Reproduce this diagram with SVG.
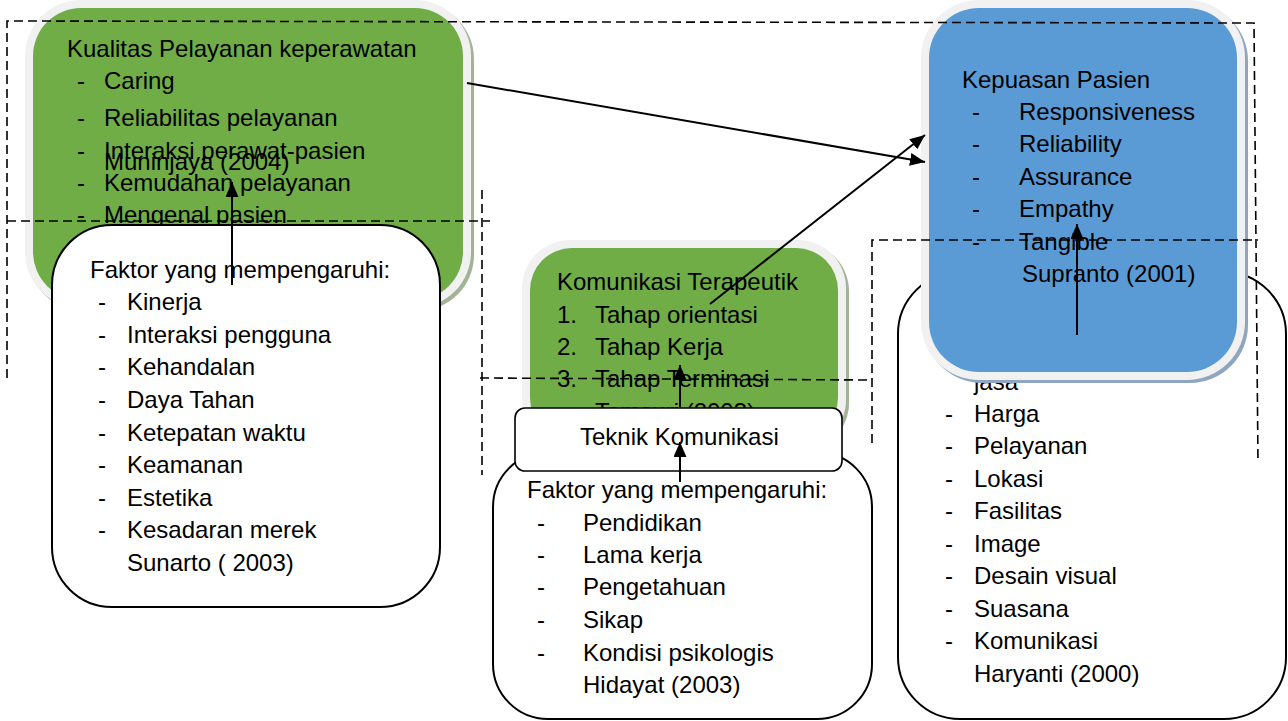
<svg xmlns="http://www.w3.org/2000/svg" width="1288" height="721" viewBox="0 0 1288 721">
<defs>
<style>
text{font-family:"Liberation Sans",Arial,sans-serif;font-size:24px;fill:#000}
.green{fill:#70ad47}
.blue{fill:#5b9bd5}
.rim{fill:#f1f1f1}
.gshadow{fill:#a3b396}
.bshadow{fill:#8ea6c0}
.wbox{fill:#fff;stroke:#000;stroke-width:2}
.conn{stroke:#000;stroke-width:2;fill:none}
.dash{stroke:#000;stroke-width:1.6;fill:none;stroke-dasharray:9 5}
</style>
<marker id="arr" markerUnits="userSpaceOnUse" markerWidth="16" markerHeight="13" refX="15" refY="6.5" orient="auto">
<path d="M0,0 L15,6.5 L0,13 z" fill="#000"/>
</marker>
</defs>
<rect width="1288" height="721" fill="#fff"/>

<g id="kualitas">
<rect class="gshadow" x="28" y="3" width="446" height="308" rx="56"/>
<rect class="rim" x="25" y="0" width="446" height="308" rx="56"/>
<rect class="green" x="33" y="8" width="430" height="292" rx="48"/>
<text x="67" y="57">Kualitas Pelayanan keperawatan</text>
<text x="77" y="89">-</text><text x="104" y="89">Caring</text>
<text x="77" y="126">-</text><text x="104" y="126">Reliabilitas pelayanan</text>
<text x="77" y="159">-</text><text x="104" y="159">Interaksi perawat-pasien</text>
<text x="104" y="170">Muninjaya (2004)</text>
<text x="77" y="191">-</text><text x="104" y="191">Kemudahan pelayanan</text>
<text x="77" y="223">-</text><text x="104" y="223">Mengenal pasien</text>
</g>

<g id="faktor-sunarto">
<rect class="wbox" x="52" y="225" width="388" height="382" rx="60"/>
<text x="90" y="278">Faktor yang mempengaruhi:</text>
<text x="98" y="310">-</text><text x="127" y="310">Kinerja</text>
<text x="98" y="343">-</text><text x="127" y="343">Interaksi pengguna</text>
<text x="98" y="375">-</text><text x="127" y="375">Kehandalan</text>
<text x="98" y="408">-</text><text x="127" y="408">Daya Tahan</text>
<text x="98" y="441">-</text><text x="127" y="441">Ketepatan waktu</text>
<text x="98" y="473">-</text><text x="127" y="473">Keamanan</text>
<text x="98" y="506">-</text><text x="127" y="506">Estetika</text>
<text x="98" y="538">-</text><text x="127" y="538">Kesadaran merek</text>
<text x="127" y="571">Sunarto ( 2003)</text>
</g>

<g id="komunikasi">
<rect class="gshadow" x="525" y="243" width="324" height="208" rx="48"/>
<rect class="rim" x="522" y="240" width="324" height="208" rx="48"/>
<rect class="green" x="530" y="248" width="308" height="192" rx="42"/>
<text x="557" y="290">Komunikasi Terapeutik</text>
<text x="557" y="323">1.</text><text x="595" y="323">Tahap orientasi</text>
<text x="557" y="355">2.</text><text x="595" y="355">Tahap Kerja</text>
<text x="557" y="387">3.</text><text x="595" y="387">Tahap Terminasi</text>
<text x="595" y="420">Tamsuri (2003)</text>
</g>

<g id="faktor-hidayat">
<rect class="wbox" x="493" y="452" width="379" height="267" rx="55"/>
<text x="527" y="498">Faktor yang mempengaruhi:</text>
<text x="537" y="531">-</text><text x="583" y="531">Pendidikan</text>
<text x="537" y="563">-</text><text x="583" y="563">Lama kerja</text>
<text x="537" y="595">-</text><text x="583" y="595">Pengetahuan</text>
<text x="537" y="628">-</text><text x="583" y="628">Sikap</text>
<text x="537" y="661">-</text><text x="583" y="661">Kondisi psikologis</text>
<text x="583" y="693">Hidayat (2003)</text>
</g>

<g id="teknik">
<rect x="515" y="408" width="327" height="63" rx="10" fill="#fff" stroke="#000" stroke-width="1.6"/>
<text x="580" y="445">Teknik Komunikasi</text>
</g>

<g id="faktor-haryanti">
<rect class="wbox" x="898" y="272" width="388" height="447" rx="62"/>
<text x="974" y="390">jasa</text>
<text x="945" y="422">-</text><text x="974" y="422">Harga</text>
<text x="945" y="454">-</text><text x="974" y="454">Pelayanan</text>
<text x="945" y="487">-</text><text x="974" y="487">Lokasi</text>
<text x="945" y="519">-</text><text x="974" y="519">Fasilitas</text>
<text x="945" y="552">-</text><text x="974" y="552">Image</text>
<text x="945" y="584">-</text><text x="974" y="584">Desain visual</text>
<text x="945" y="617">-</text><text x="974" y="617">Suasana</text>
<text x="945" y="649">-</text><text x="974" y="649">Komunikasi</text>
<text x="974" y="682">Haryanti (2000)</text>
</g>

<g id="kepuasan">
<rect class="bshadow" x="924" y="3" width="324" height="380" rx="58"/>
<rect class="rim" x="921" y="0" width="324" height="380" rx="58"/>
<rect class="blue" x="929" y="8" width="308" height="364" rx="50"/>
<text x="962" y="88">Kepuasan Pasien</text>
<text x="972" y="120">-</text><text x="1019" y="120">Responsiveness</text>
<text x="972" y="152">-</text><text x="1019" y="152">Reliability</text>
<text x="972" y="185">-</text><text x="1019" y="185">Assurance</text>
<text x="972" y="217">-</text><text x="1019" y="217">Empathy</text>
<text x="972" y="250">-</text><text x="1019" y="250">Tangible</text>
<text x="1022" y="282">Supranto (2001)</text>
</g>

<g id="connectors">
<line class="conn" x1="232" y1="285" x2="232" y2="182" marker-end="url(#arr)"/>
<line class="conn" x1="467" y1="83" x2="925" y2="162" marker-end="url(#arr)"/>
<line class="conn" x1="710" y1="304" x2="925" y2="135" marker-end="url(#arr)"/>
<line class="conn" x1="680" y1="407" x2="680" y2="365" marker-end="url(#arr)"/>
<line class="conn" x1="680" y1="482" x2="680" y2="442" marker-end="url(#arr)"/>
<line class="conn" x1="1077" y1="335" x2="1077" y2="224" marker-end="url(#arr)"/>
</g>

<g id="dashed-frames">
<path class="dash" d="M7,378 V21 L1254,23 L1258,463"/>
<path class="dash" d="M7,221 H490"/>
<path class="dash" d="M482,190 V475"/>
<path class="dash" d="M480,378 L872,380"/>
<path class="dash" d="M872,443 V240 H1258"/>
</g>
</svg>
